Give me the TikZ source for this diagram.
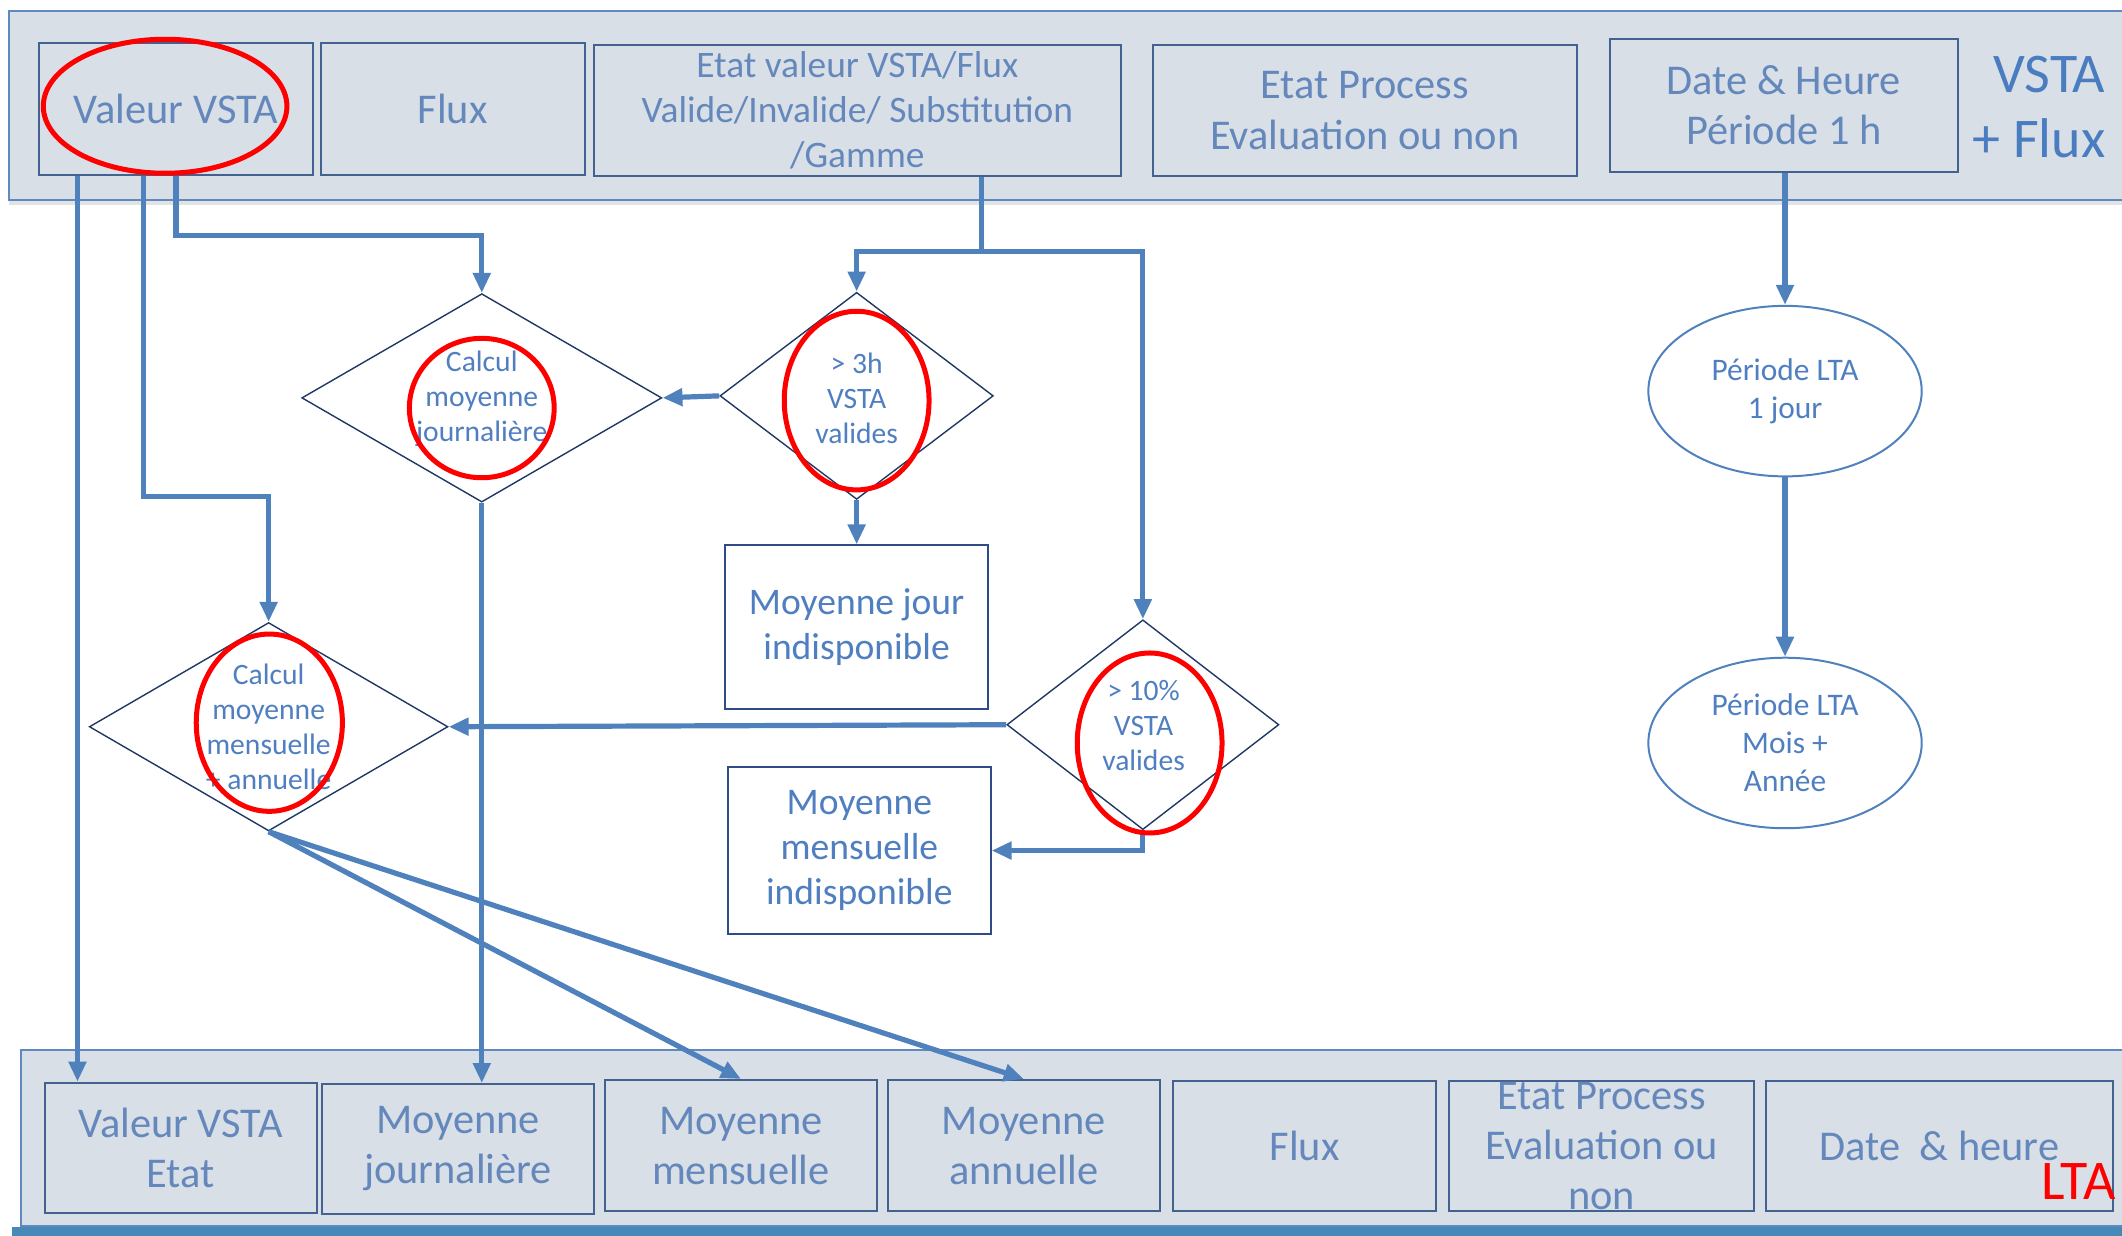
\documentclass[tikz,border=0pt]{standalone}
\usepackage{fontspec}
\setmainfont{Carlito}
\usetikzlibrary{shapes.geometric,arrows.meta,calc,shadows}

\definecolor{bandfill}{HTML}{D9DFE7}
\definecolor{bandline}{HTML}{6089C2}
\definecolor{boxline}{HTML}{43628F}
\definecolor{bandtext}{HTML}{6488BB}
\definecolor{flowtext}{HTML}{4F7FC0}
\definecolor{flowline}{HTML}{4F81BD}
\definecolor{dialine}{HTML}{1F3864}
\definecolor{whiteboxline}{HTML}{2E4D87}
\definecolor{stripblue}{HTML}{4689B9}
\definecolor{titleblue}{HTML}{4A7CC0}

\tikzset{
  sz/.style 2 args={minimum width={(#1)*0.6767pt}, minimum height={(#2)*0.6767pt}},
  band/.style={draw=bandline, line width=1pt, fill=bandfill,
    drop shadow={shadow xshift=0pt, shadow yshift=-2.5pt, opacity=0.22}},
  bandbox/.style={draw=boxline, line width=1pt, fill=bandfill, inner sep=0pt,
    text=bandtext, font=\fontsize{21.2}{25}\selectfont, align=center},
  bandtxt/.style={text=bandtext, font=\fontsize{21.2}{25}\selectfont, align=center, inner sep=0pt},
  flowbox/.style={draw=whiteboxline, line width=1pt, fill=white, inner sep=0pt,
    text=flowtext, font=\fontsize{18.8}{22.5}\selectfont, align=center},
  dia/.style={diamond, draw=dialine, line width=0.7pt, fill=white, inner sep=0pt},
  diatxt/.style={text=flowtext, font=\fontsize{14.8}{17.5}\selectfont, align=center, inner sep=0pt},
  period/.style={ellipse, draw=flowline, line width=1pt, inner sep=0pt,
    text=flowtext, font=\fontsize{15.7}{19}\selectfont, align=center},
  redring/.style={ellipse, draw=red, line width=2.5pt, inner sep=0pt},
  link/.style={draw=flowline, line width=2.6pt},
  conn/.style={link, -{Triangle[length=10pt,width=8.5pt]}}
}

\begin{document}
\begin{tikzpicture}[x=0.6767pt,y=-0.6767pt]

\useasboundingbox (0,0) rectangle (1568,913);
\clip (0,0) rectangle (1568,913);

% ---------- input band (VSTA + Flux) ----------
\path[band] (7,8) rectangle (1590,148);
\node[bandbox, sz={202}{97}] (tVal)  at (130,80.5)  {Valeur VSTA};
\node[bandbox, sz={195}{97}] (tFlux) at (334.5,80.5) {Flux};
\node[bandbox, sz={389}{97}, font=\fontsize{18.7}{22.5}\selectfont] (tEtat) at (633.5,81.5)
  {Etat valeur VSTA/Flux\\Valide/Invalide/ Substitution\\/Gamme};
\node[bandbox, sz={313}{97}, font=\fontsize{21.2}{25.5}\selectfont] (tProc) at (1008.5,81.5)
  {Etat Process\\Evaluation ou non};
\node[bandbox, sz={257}{98}] (tDate) at (1318,78) {Date \& Heure\\Période 1 h};
\node[text=titleblue, font=\fontsize{28}{32.5}\selectfont, align=right, inner sep=0pt,
  anchor=east] (tTitle) at (1556,79) {VSTA\\+ Flux};

% ---------- output band (LTA) ----------
\path[band] (15.5,776) rectangle (1590,906);
\fill[stripblue] (9,906.5) rectangle (1590,920);
\node[bandbox, sz={201}{96}] (bVal)  at (133.5,848) {Valeur VSTA\\Etat};
\node[bandbox, sz={201}{96}] (bJ)    at (338.5,849) {Moyenne\\journalière};
\node[bandbox, sz={201}{97}] (bMm)   at (547.5,846.5) {Moyenne\\mensuelle};
\node[bandbox, sz={201}{97}] (bMa)   at (756.5,846.5) {Moyenne\\annuelle};
\node[bandbox, sz={194}{96}] (bFlux) at (964,847) {Flux};
\node[bandbox, sz={225}{96}] (bProc) at (1183.5,847) {};
\node[bandtxt] (bProcTxt) at (bProc) {Etat Process\\Evaluation ou\\non};
\node[bandbox, sz={256}{96}] (bDate) at (1433,847) {Date\ \ \& heure};
\node[text=red, font=\fontsize{28}{30}\selectfont, inner sep=0pt] (bTitle) at (1536,873) {LTA};

% ---------- decision diamonds ----------
\node[dia, sz={266}{154}] (dJ)  at (356,294) {};
\node[diatxt] (dJtxt) at (356,295) {Calcul\\moyenne\\journalière};
\node[dia, sz={202}{153}] (d3h) at (633,292.5) {};
\node[diatxt] (d3htxt) at (633,294) {> 3h\\VSTA\\valides};
\node[dia, sz={201}{155}] (d10) at (844.5,535.5) {};
\node[diatxt] (d10txt) at (845,536) {> 10\%\\VSTA\\valides};
\node[dia, sz={265}{154}] (dM)  at (198.5,537) {};
\node[diatxt] (dMtxt) at (198.5,537) {Calcul\\moyenne\\mensuelle\\+ annuelle};

% ---------- unavailable results ----------
\node[flowbox, sz={194}{121}] (bJour) at (633,463.5) {Moyenne jour\\indisponible};
\node[flowbox, sz={194}{123}] (bMens) at (635,628.5) {Moyenne\\mensuelle\\indisponible};

% ---------- LTA periods ----------
\node[period, sz={202}{126}] (eJour) at (1319,289) {Période LTA\\1 jour};
\node[period, sz={202}{126}] (eMois) at (1319,549) {Période LTA\\Mois +\\Année};

% ---------- connectors ----------
\draw[conn] ([xshift=29*0.6767pt]tVal.south west) coordinate (sV1) -- (sV1 |- bVal.north);
\draw[conn] ([xshift=78*0.6767pt]tVal.south west) -- ++(0,237) -| (dM.north);
\draw[conn] (tVal.south) -- ++(0,44) -| (dJ.north);
\draw[link] ([xshift=287*0.6767pt]tEtat.south west) -- ++(0,55) coordinate (jE);
\draw[conn] (jE) -| (d3h.north);
\draw[conn] (jE) -| (d10.north);
\draw[conn] (d3h.west) -- (dJ.east);
\draw[conn] (d3h.south) -- (bJour.north);
\draw[conn] (d10.west) -- (dM.east);
\draw[conn] (d10.south) |- (bMens.east);
\draw[conn] (dJ.south) -- (dJ.south |- bJ.north);
\draw[conn] (dM.south) -- (bMm.north);
\draw[conn] (dM.south) -- (bMa.north);
\draw[conn] (eJour.north |- tDate.south) -- (eJour.north);
\draw[conn] (eJour.south) -- (eMois.north);

% ---------- red highlight rings ----------
\node[redring, sz={180}{99}]  (rVal) at (122,78.5) {};
\node[redring, sz={107}{103}] (rJ)   at (356,301.5) {};
\node[redring, sz={107}{132}] (r3h)  at (633,296) {};
\node[redring, sz={108}{131}] (rM)   at (199,534) {};
\node[redring, sz={107}{133}] (r10)  at (849.5,549) {};
\end{tikzpicture}
\end{document}
